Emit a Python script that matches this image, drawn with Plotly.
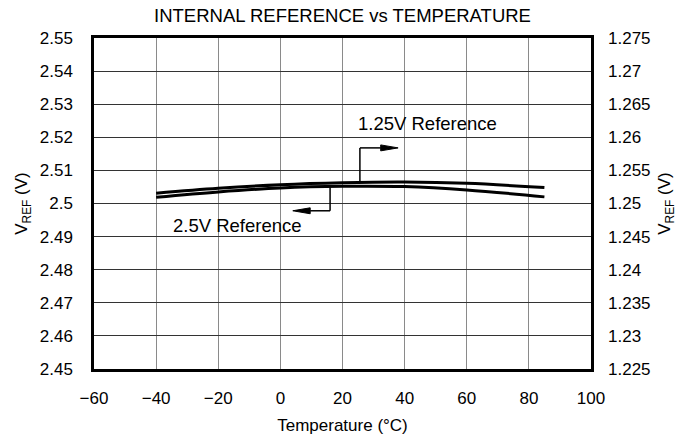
import plotly.graph_objects as go

temps = [-40, -20, 0, 20, 40, 60, 85]
vref_25 = [2.5019, 2.5035, 2.5047, 2.5052, 2.5051, 2.5041, 2.5020]
vref_125 = [1.25155, 1.2523, 1.25285, 1.25315, 1.25325, 1.25305, 1.2524]

x_ticks = [-60, -40, -20, 0, 20, 40, 60, 80, 100]
left_ticks = [2.45, 2.46, 2.47, 2.48, 2.49, 2.5, 2.51, 2.52, 2.53, 2.54, 2.55]
left_labels = ["2.45", "2.46", "2.47", "2.48", "2.49", "2.5", "2.51", "2.52", "2.53", "2.54", "2.55"]
right_ticks = [1.225, 1.23, 1.235, 1.24, 1.245, 1.25, 1.255, 1.26, 1.265, 1.27, 1.275]
right_labels = ["1.225", "1.23", "1.235", "1.24", "1.245", "1.25", "1.255", "1.26", "1.265", "1.27", "1.275"]

FONT = "Liberation Sans, Arial, sans-serif"
FS = 17

L, R, T, B = 94, 94, 38, 68
W, H = 685, 444
pw, ph = W - L - R, H - T - B


def px(x):
    return (x - L) / pw


def py(y):
    return 1 - (y - T) / ph


fig = go.Figure()
fig.add_trace(go.Scatter(x=temps, y=vref_25, mode="lines", line=dict(color="black", width=3, shape="spline"),
                         yaxis="y", showlegend=False, hoverinfo="skip"))
fig.add_trace(go.Scatter(x=temps, y=vref_125, mode="lines", line=dict(color="black", width=3, shape="spline"),
                         yaxis="y2", showlegend=False, hoverinfo="skip"))


def leader(x0, y_curve, y_turn, x_tip):
    """Vertical leader from curve, then horizontal arrow to x_tip."""
    direction = 1 if x_tip > x0 else -1
    head_len = 5.6     # in x-units (~17 px)
    head_half = 0.0009  # in y-units (~3 px)
    base = x_tip - direction * head_len
    fig.add_shape(type="line", xref="x", yref="y", x0=x0, x1=x0, y0=y_curve, y1=y_turn,
                  line=dict(color="black", width=1.5))
    fig.add_shape(type="line", xref="x", yref="y", x0=x0, x1=base, y0=y_turn, y1=y_turn,
                  line=dict(color="black", width=1.5))
    fig.add_shape(type="path", xref="x", yref="y",
                  path=f"M {x_tip},{y_turn} L {base},{y_turn + head_half} L {base},{y_turn - head_half} Z",
                  fillcolor="black", line=dict(color="black", width=1))


leader(25.6, 2.5064, 2.5168, 37.9)
leader(16.0, 2.5052, 2.4978, 4.0)

fig.add_annotation(x=px(427), y=py(125), xref="paper", yref="paper", xanchor="center", yanchor="middle",
                   text="1.25V Reference", showarrow=False, font=dict(family=FONT, size=18.5, color="black"))
fig.add_annotation(x=px(237), y=py(229), xref="paper", yref="paper", xanchor="center", yanchor="middle",
                   text="2.5V Reference", showarrow=False, font=dict(family=FONT, size=18.5, color="black"))

axis_common = dict(showline=True, linecolor="black", linewidth=2.5, mirror=True, ticks="",
                   tickfont=dict(family=FONT, size=FS, color="black"), zeroline=False)

fig.update_layout(
    width=W, height=H,
    margin=dict(l=L, r=R, t=T, b=B),
    paper_bgcolor="white", plot_bgcolor="white",
    font=dict(family=FONT, size=FS, color="black"),
    title=dict(text="INTERNAL REFERENCE vs TEMPERATURE", x=0.5, xanchor="center", y=1 - 16 / H, yanchor="middle",
               font=dict(family=FONT, size=18.5, color="black")),
    xaxis=dict(range=[-60, 100], tickvals=x_ticks, showgrid=True, gridcolor="#8a8a8a", gridwidth=1,
               ticklabelstandoff=12,
               title=dict(text="Temperature (°C)", standoff=12, font=dict(family=FONT, size=FS)),
               **axis_common),
    yaxis=dict(range=[2.45, 2.55], tickvals=left_ticks, ticktext=left_labels, showgrid=True,
               gridcolor="#333333", gridwidth=1, ticklabelstandoff=15,
               title=dict(text="V<sub>REF</sub> (V)", standoff=8, font=dict(family=FONT, size=FS)),
               **axis_common),
    yaxis2=dict(range=[1.225, 1.275], tickvals=right_ticks, ticktext=right_labels, overlaying="y", side="right",
                showgrid=False, ticklabelstandoff=16, showline=False, ticks="",
                tickfont=dict(family=FONT, size=FS, color="black"), zeroline=False,
                title=dict(text="V<sub>REF</sub> (V)", standoff=8, font=dict(family=FONT, size=FS))),
)

fig.write_html("out.html")
